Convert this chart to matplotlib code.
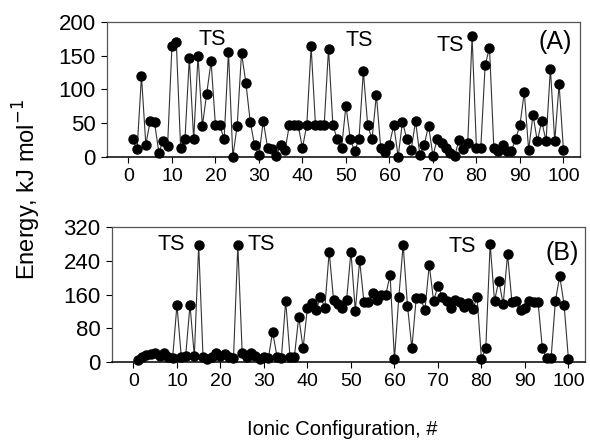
import matplotlib
matplotlib.use('Agg')
import matplotlib.pyplot as plt

plt.rcParams['font.family'] = ['Liberation Sans', 'DejaVu Sans']

config = list(range(1, 101))

energy_A = [26, 11, 120, 18, 53, 51, 6, 24, 16, 164,
            171, 13, 26, 147, 26, 150, 46, 94, 142, 47,
            47, 26, 156, 0, 46, 154, 110, 52, 17, 2,
            53, 13, 11, 1, 18, 10, 47, 47, 47, 13,
            47, 164, 47, 47, 47, 161, 47, 26, 13, 76,
            26, 8, 26, 127, 47, 26, 92, 13, 7, 18,
            47, 0, 52, 26, 10, 53, 2, 18, 46, 1,
            27, 20, 13, 6, 1, 25, 12, 20, 179, 13,
            13, 136, 162, 13, 8, 18, 8, 8, 26, 47,
            96, 10, 62, 23, 53, 23, 131, 23, 108, 10]

energy_B = [5, 12, 15, 18, 20, 14, 20, 10, 8, 135,
            12, 13, 135, 13, 278, 10, 6, 12, 21, 13,
            18, 12, 8, 278, 21, 12, 21, 13, 6, 12,
            8, 71, 12, 8, 145, 10, 12, 107, 32, 129,
            139, 123, 153, 129, 262, 147, 137, 127, 147, 262,
            121, 241, 141, 143, 164, 148, 159, 159, 206, 6,
            153, 278, 133, 32, 151, 151, 123, 230, 145, 180,
            155, 145, 129, 147, 143, 131, 139, 125, 153, 6,
            32, 280, 145, 193, 137, 256, 143, 145, 123, 129,
            145, 143, 143, 32, 8, 8, 145, 204, 135, 6]

xticks = list(range(0, 101, 10))
yticks_A = [0, 50, 100, 150, 200]
yticks_B = [0, 80, 160, 240, 320]

ts_A = [(19.2, 175), (53.1, 173), (74.0, 165)]
ts_B = [(8.8, 280), (29.3, 280), (75.5, 275)]

fig = plt.figure(figsize=(5.9, 4.45), dpi=100)
axA = fig.add_axes([0.1808, 0.6479, 0.8022, 0.3020])
axB = fig.add_axes([0.1893, 0.1872, 0.8022, 0.3020])

for ax, y, yt, ts, tag, tagpos in [
        (axA, energy_A, yticks_A, ts_A, '(A)', (98, 170)),
        (axB, energy_B, yticks_B, ts_B, '(B)', (98.5, 259))]:
    ax.plot(config, y, '-', color='#333333', lw=0.8, zorder=2, clip_on=False)
    ax.plot(config, y, 'o', color='black', ms=6.5, zorder=3, clip_on=False)
    ax.set_xlim(-5, 103.8)
    ax.set_ylim(yt[0], yt[-1])
    ax.set_xticks(xticks)
    ax.set_yticks(yt)
    ax.tick_params(direction='out', length=4, width=0.8, pad=4, colors='black')
    ax.tick_params(axis='x', labelsize=14)
    ax.tick_params(axis='y', labelsize=16)
    for s in ['left', 'top', 'right']:
        ax.spines[s].set_color('#555555')
        ax.spines[s].set_linewidth(0.9)
    ax.spines['bottom'].set_color('black')
    ax.spines['bottom'].set_linewidth(1.1)
    for (tx, ty) in ts:
        ax.text(tx, ty, 'TS', ha='center', va='center', fontsize=15.5)
    ax.text(tagpos[0], tagpos[1], tag, ha='center', va='center', fontsize=18)

fig.text(0.58, 0.034, 'Ionic Configuration, #', ha='center', va='center', fontsize=14.5)
fig.text(0.046, 0.575, 'Energy, kJ mol$^{-1}$', ha='center', va='center',
         rotation=90, fontsize=17)

fig.savefig('out.png', dpi=100)
